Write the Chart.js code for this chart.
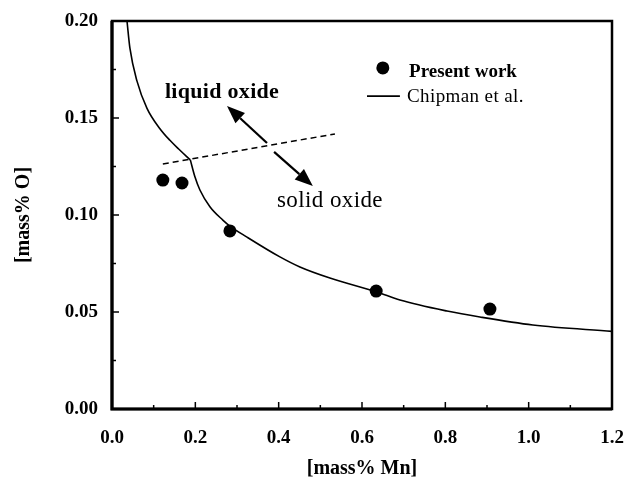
<!DOCTYPE html>
<html>
<head>
<meta charset="utf-8">
<script src="https://cdn.jsdelivr.net/npm/chart.js@4"></script>
<style>
  html, body { margin: 0; padding: 0; background: #fff; }
</style>
</head>
<body>
<canvas id="chart" width="638" height="482"></canvas>
<script>
// Present work: measured points
const presentMn = [0.122, 0.168, 0.283, 0.634, 0.907];
const presentO  = [0.118, 0.1165, 0.0918, 0.0608, 0.0515];

// Chipman et al., liquid oxide branch (above the dashed boundary)
const chipmanLiqMn = [0.036, 0.043, 0.060, 0.084, 0.115, 0.139, 0.160, 0.188];
const chipmanLiqO  = [0.200, 0.186, 0.169, 0.155, 0.1445, 0.1385, 0.1340, 0.1284];

// Chipman et al., solid oxide branch (below the dashed boundary)
const chipmanSolMn = [0.188, 0.199, 0.211, 0.235, 0.266, 0.283, 0.324, 0.403, 0.451, 0.523, 0.636, 0.691, 0.804, 0.883, 1.010, 1.200];
const chipmanSolO  = [0.1284, 0.1197, 0.1129, 0.1043, 0.0974, 0.0943, 0.0886, 0.0784, 0.0732, 0.0675, 0.0603, 0.0562, 0.0505, 0.0474, 0.0433, 0.0400];

// dashed liquid/solid oxide boundary
const boundaryMn = [0.122, 0.535];
const boundaryO  = [0.1263, 0.1418];

// axis ranges and tick steps
const xRange = [0, 1.2];
const yRange = [0, 0.20];
const xStep = 0.1;    // labels every 0.2
const yStep = 0.025;  // labels every 0.05

const serif = "'Liberation Serif', 'Times New Roman', serif";

function toPoints(xs, ys) {
    return xs.map((v, i) => ({ x: v, y: ys[i] }));
}

function isMajorX(v) { return Math.round(v / xStep) % 2 === 0; }
function isMajorY(v) { return Math.round(v / yStep) % 2 === 0; }

// arrow with a filled head, in data coordinates
function drawArrow(ctx, x, y, from, to) {
    const x1 = x.getPixelForValue(from[0]), y1 = y.getPixelForValue(from[1]);
    const x2 = x.getPixelForValue(to[0]),   y2 = y.getPixelForValue(to[1]);
    const ang = Math.atan2(y2 - y1, x2 - x1);
    const headLen = 18, headW = 7;
    const bx = x2 - headLen * Math.cos(ang), by = y2 - headLen * Math.sin(ang);
    ctx.beginPath();
    ctx.moveTo(x1, y1);
    ctx.lineTo(bx, by);
    ctx.lineWidth = 2.2;
    ctx.stroke();
    ctx.beginPath();
    ctx.moveTo(x2, y2);
    ctx.lineTo(bx + headW * Math.sin(ang), by - headW * Math.cos(ang));
    ctx.lineTo(bx - headW * Math.sin(ang), by + headW * Math.cos(ang));
    ctx.closePath();
    ctx.fill();
}

// frame, inward ticks, arrows, labels and legend
const decorPlugin = {
    id: 'decor',
    afterDraw(chart) {
        const { ctx, chartArea: a, scales: { x, y } } = chart;
        ctx.save();
        ctx.strokeStyle = '#000';
        ctx.fillStyle = '#000';

        // frame
        ctx.lineWidth = 2.5;
        ctx.strokeRect(a.left, a.top, a.right - a.left, a.bottom - a.top);
        ctx.lineWidth = 3.2;
        ctx.beginPath();
        ctx.moveTo(a.left, a.top);
        ctx.lineTo(a.left, a.bottom);
        ctx.lineTo(a.right, a.bottom);
        ctx.stroke();

        // inward ticks
        ctx.lineWidth = 1.5;
        x.ticks.forEach(t => {
            const px = x.getPixelForValue(t.value);
            if (px <= a.left + 1 || px >= a.right - 1) return;
            const len = isMajorX(t.value) ? 7 : 4;
            ctx.beginPath();
            ctx.moveTo(px, a.bottom);
            ctx.lineTo(px, a.bottom - len);
            ctx.stroke();
        });
        y.ticks.forEach(t => {
            const py = y.getPixelForValue(t.value);
            if (py <= a.top + 1 || py >= a.bottom - 1) return;
            const len = isMajorY(t.value) ? 7 : 4;
            ctx.beginPath();
            ctx.moveTo(a.left, py);
            ctx.lineTo(a.left + len, py);
            ctx.stroke();
        });

        // arrows
        drawArrow(ctx, x, y, [0.372, 0.1371], [0.276, 0.1562]);
        drawArrow(ctx, x, y, [0.389, 0.1325], [0.482, 0.1149]);

        // region labels
        ctx.textBaseline = 'alphabetic';
        ctx.textAlign = 'left';
        ctx.font = `bold 22px ${serif}`;
        ctx.letterSpacing = '0.3px';
        ctx.fillText('liquid oxide', x.getPixelForValue(0.127), y.getPixelForValue(0.1603));
        ctx.font = `23px ${serif}`;
        ctx.letterSpacing = '0.4px';
        ctx.fillText('solid oxide', x.getPixelForValue(0.396), y.getPixelForValue(0.1041));

        // legend
        ctx.beginPath();
        ctx.arc(x.getPixelForValue(0.650), y.getPixelForValue(0.1758), 6.5, 0, Math.PI * 2);
        ctx.fill();
        ctx.font = `bold 19px ${serif}`;
        ctx.letterSpacing = '0px';
        ctx.fillText('Present work', x.getPixelForValue(0.713), y.getPixelForValue(0.1711));
        ctx.lineWidth = 1.6;
        ctx.beginPath();
        ctx.moveTo(x.getPixelForValue(0.612), y.getPixelForValue(0.1613));
        ctx.lineTo(x.getPixelForValue(0.691), y.getPixelForValue(0.1613));
        ctx.stroke();
        ctx.font = `19px ${serif}`;
        ctx.letterSpacing = '0.4px';
        ctx.fillText('Chipman et al.', x.getPixelForValue(0.708), y.getPixelForValue(0.1582));

        ctx.restore();
    }
};

const curveStyle = {
    showLine: true,
    cubicInterpolationMode: 'monotone',
    borderColor: '#000',
    borderWidth: 1.6,
    pointRadius: 0
};

new Chart(document.getElementById('chart'), {
    type: 'scatter',
    data: {
        datasets: [
            Object.assign({ label: 'Chipman et al.', data: toPoints(chipmanLiqMn, chipmanLiqO) }, curveStyle),
            Object.assign({ label: 'Chipman et al. (solid)', data: toPoints(chipmanSolMn, chipmanSolO) }, curveStyle),
            {
                label: 'boundary',
                data: toPoints(boundaryMn, boundaryO),
                showLine: true,
                borderColor: '#000',
                borderWidth: 1.5,
                borderDash: [6, 4],
                pointRadius: 0
            },
            {
                label: 'Present work',
                data: toPoints(presentMn, presentO),
                showLine: false,
                pointRadius: 6.5,
                pointBackgroundColor: '#000',
                pointBorderColor: '#000',
                pointBorderWidth: 0
            }
        ]
    },
    options: {
        responsive: false,
        animation: false,
        events: [],
        layout: { padding: { top: 21, right: 26, bottom: 0, left: 0 } },
        plugins: {
            legend: { display: false },
            tooltip: { enabled: false }
        },
        scales: {
            x: {
                type: 'linear',
                min: xRange[0],
                max: xRange[1],
                grid: { display: false, drawTicks: false },
                border: { display: false },
                ticks: {
                    stepSize: xStep,
                    autoSkip: false,
                    maxRotation: 0,
                    padding: 18,
                    color: '#000',
                    font: { family: serif, weight: 'bold', size: 19 },
                    callback: v => isMajorX(v) ? v.toFixed(1) : ''
                },
                title: {
                    display: true,
                    text: '[mass% Mn]',
                    color: '#000',
                    font: { family: serif, weight: 'bold', size: 20 },
                    padding: { top: 0, bottom: 1 }
                },
                afterFit: s => { s.height = 73; s.paddingLeft = 0; s.paddingRight = 0; }
            },
            y: {
                type: 'linear',
                min: yRange[0],
                max: yRange[1],
                grid: { display: false, drawTicks: false },
                border: { display: false },
                ticks: {
                    stepSize: yStep,
                    autoSkip: false,
                    padding: 14,
                    color: '#000',
                    font: { family: serif, weight: 'bold', size: 19 },
                    callback: v => isMajorY(v) ? v.toFixed(2) : ''
                },
                title: {
                    display: true,
                    text: '[mass% O]',
                    color: '#000',
                    font: { family: serif, weight: 'bold', size: 20 },
                    padding: { top: 12, bottom: 0 }
                },
                afterFit: s => { s.width = 112; s.paddingTop = 0; s.paddingBottom = 0; }
            }
        }
    },
    plugins: [decorPlugin]
});
</script>
</body>
</html>
